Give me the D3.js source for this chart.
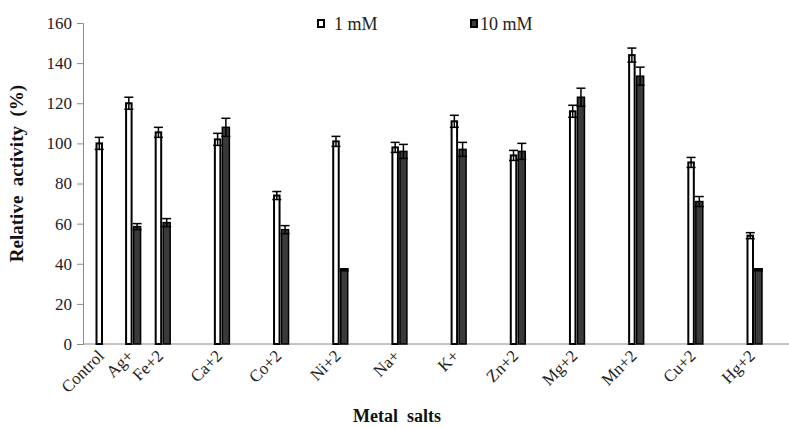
<!DOCTYPE html>
<html>
<head>
<meta charset="utf-8">
<script src="https://cdn.jsdelivr.net/npm/d3@7"></script>
<style>
  body { margin: 0; background: #fff; }
  svg { display: block; font-family: "Liberation Serif", "Times New Roman", serif; }
</style>
</head>
<body>
<div id="chart"></div>
<script>
// Data
const categories = ['Control', 'Ag+', 'Fe+2', 'Ca+2', 'Co+2', 'Ni+2', 'Na+', 'K+', 'Zn+2', 'Mg+2', 'Mn+2', 'Cu+2', 'Hg+2'];
const mM1 = [100, 120, 105.5, 102, 74, 101, 98, 111, 94, 116, 144, 90.5, 54];
const mM1Err = [3, 3, 2.5, 3, 2, 2.5, 2.5, 3, 2.5, 3, 3.5, 2.5, 1.5];
const mM10 = [null, 58.5, 60.5, 108, 57, 37, 96, 97, 96, 123, 133.5, 71, 37];
const mM10Err = [null, 1.5, 2, 4.5, 2, 0.5, 3.5, 3.5, 4, 4.5, 4.5, 2.5, 0.5];
const yTicks = [0, 20, 40, 60, 80, 100, 120, 140, 160];
const seriesNames = ['1 mM', '10 mM'];

const W = 789, H = 428;
const margin = { top: 23, right: 0, bottom: 84, left: 83 };
const axisColor = '#8a8a8a';
const darkFill = '#3a3a3a';

const svg = d3.select('#chart').append('svg')
  .attr('width', W)
  .attr('height', H);

const y = d3.scaleLinear().domain([0, 160]).range([H - margin.bottom, margin.top]);

// in the original, Ag+ is squeezed between Control and Fe+2 rather than getting its own slot
const slot = i => (i < 2 ? i / 2 : i - 1);
const x = d3.scaleLinear().domain([0, 11]).range([103, 754]);
const cx = i => x(slot(i));

// one entry per bar: category index, value, error, offset/width of the bar in its group
const series = [
  { vals: mM1, errs: mM1Err, off: -6.5, w: 5.5, fill: '#fff', sw: 2 },
  { vals: mM10, errs: mM10Err, off: 1, w: 7, fill: darkFill, sw: 1.5 }
];
const bars = [];
series.forEach(s => {
  categories.forEach((c, i) => {
    if (s.vals[i] != null) bars.push({ i, v: s.vals[i], e: s.errs[i], s });
  });
});

// Axes
const yAxis = svg.append('g')
  .attr('transform', `translate(${margin.left},0)`)
  .call(d3.axisLeft(y).tickValues(yTicks).tickSize(6).tickPadding(5));
yAxis.select('.domain').attr('stroke', axisColor);
yAxis.selectAll('.tick line').attr('stroke', axisColor);
yAxis.selectAll('.tick text')
  .attr('font-family', '"Liberation Serif", serif')
  .attr('font-size', 17)
  .attr('fill', '#222');

svg.append('line')
  .attr('x1', margin.left).attr('x2', W)
  .attr('y1', y(0)).attr('y2', y(0))
  .attr('stroke', axisColor);

// Bars
svg.append('g').selectAll('rect')
  .data(bars)
  .join('rect')
  .attr('x', d => cx(d.i) + d.s.off)
  .attr('width', d => d.s.w)
  .attr('y', d => y(d.v))
  .attr('height', d => y(0) - y(d.v))
  .attr('fill', d => d.s.fill)
  .attr('stroke', '#000')
  .attr('stroke-width', d => d.s.sw);

// Error bars (symmetric, lower half shows inside the bar)
const eb = svg.append('g')
  .attr('stroke', '#000')
  .attr('stroke-width', 1.5)
  .selectAll('g')
  .data(bars)
  .join('g')
  .attr('transform', d => `translate(${cx(d.i) + d.s.off + d.s.w / 2},0)`);
eb.append('line')
  .attr('y1', d => y(d.v + d.e))
  .attr('y2', d => y(d.v - d.e));
eb.append('line')
  .attr('x1', -4.5).attr('x2', 4.5)
  .attr('y1', d => y(d.v + d.e))
  .attr('y2', d => y(d.v + d.e));
eb.append('line')
  .attr('x1', -4.5).attr('x2', 4.5)
  .attr('y1', d => y(d.v - d.e))
  .attr('y2', d => y(d.v - d.e));

// Category labels
svg.append('g').selectAll('text')
  .data(categories)
  .join('text')
  .attr('text-anchor', 'end')
  .attr('font-size', 17)
  .attr('fill', '#222')
  .attr('transform', (d, i) => `translate(${cx(i) + 2},${y(0) + 13}) rotate(-45)`)
  .text(d => d);

// Axis titles
svg.append('text')
  .attr('transform', `translate(23,${(y(0) + y(160)) / 2 - 10}) rotate(-90)`)
  .attr('text-anchor', 'middle')
  .attr('font-size', 19)
  .attr('font-weight', 'bold')
  .attr('fill', '#111')
  .style('white-space', 'pre')
  .text('Relative  activity  (%)');

svg.append('text')
  .attr('x', 397)
  .attr('y', 422)
  .attr('text-anchor', 'middle')
  .attr('font-size', 18)
  .attr('font-weight', 'bold')
  .attr('fill', '#111')
  .style('white-space', 'pre')
  .text('Metal  salts');

// Legend
const legend = svg.append('g').selectAll('g')
  .data(seriesNames)
  .join('g')
  .attr('transform', (d, i) => `translate(${i === 0 ? 318 : 471},20)`);
legend.append('rect')
  .attr('x', 0).attr('y', 0)
  .attr('width', 6).attr('height', 7)
  .attr('fill', (d, i) => i === 0 ? '#fff' : darkFill)
  .attr('stroke', '#000')
  .attr('stroke-width', 2);
legend.append('text')
  .attr('x', (d, i) => i === 0 ? 16 : 9)
  .attr('y', 10)
  .attr('font-size', 18)
  .attr('fill', '#222')
  .text(d => d);
</script>
</body>
</html>
